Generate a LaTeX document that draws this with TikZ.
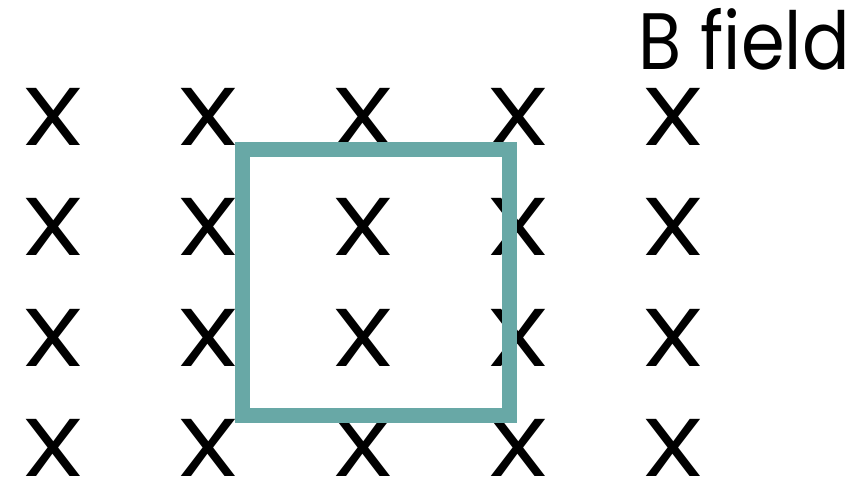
\documentclass[tikz,border=0pt]{standalone}
\usepackage{fontspec}
\setmainfont{Poppins}
\usetikzlibrary{positioning}
\definecolor{loopteal}{RGB}{104,168,166}

\begin{document}
\begin{tikzpicture}[
                x=1pt, y=-1pt,
                fieldmark/.style={inner sep=0pt, font=\fontsize{82}{96}\selectfont},
                loopbox/.style={draw=loopteal, line width=15pt, minimum width=267pt, minimum height=265pt, inner sep=0pt},
                title/.style={inner sep=0pt, font=\fontsize{80}{96}\selectfont}
            ]

            \useasboundingbox (0,0) rectangle (867,481);

            % field into the page
            \foreach \col [count=\i] in {53,208,363,518,673} {
                \foreach \row [count=\j] in {117,227,338,448} {
                    \node[fieldmark] (x-\i-\j) at (\col,\row) {\scalebox{1.25}[1]{X}};
                }
            }

            \node[loopbox] (loop) at (376,282.5) {};

            \node[title, anchor=base east] (label) at (850,70) {\scalebox{0.88}[1]{B field}};

        \end{tikzpicture}
\end{document}
